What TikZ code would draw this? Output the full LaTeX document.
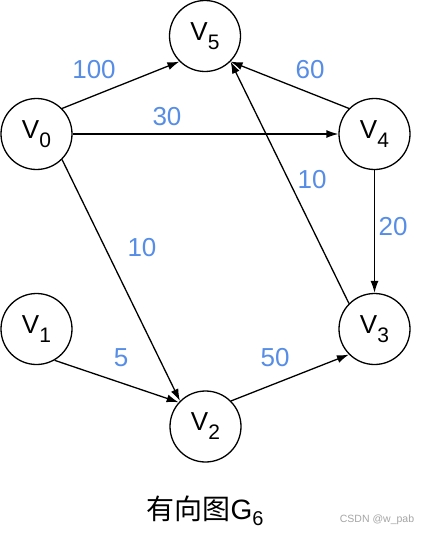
\documentclass[tikz,border=0pt]{standalone}
\usepackage{fontspec}
\setmainfont{Liberation Sans}
\newfontfamily\cjk{Noto Sans CJK SC}
\usetikzlibrary{arrows.meta}
\definecolor{lblue}{RGB}{86,141,230}
\definecolor{wmgray}{RGB}{165,165,165}
\newcommand{\vn}[1]{V\raisebox{-9pt}{\fontsize{21}{21}\selectfont #1}}
\begin{document}
\begin{tikzpicture}[x=1pt,y=-1pt,
  vert/.style={circle,draw,line width=1.3pt,minimum size=71pt,inner sep=0pt,font=\fontsize{26}{30}\selectfont},
  edge/.style={line width=1.3pt,-{Latex[length=12pt,width=8pt]}},
  wlabel/.style={text=lblue,font=\fontsize{26}{30}\selectfont,inner sep=0pt}]
\useasboundingbox (0,0) rectangle (427,535);
\node[vert] (v5) at (205,36) {\vn{5}};
\node[vert] (v0) at (36.5,134) {\vn{0}};
\node[vert] (v4) at (374.5,134) {\vn{4}};
\node[vert] (v1) at (36.5,329) {\vn{1}};
\node[vert] (v3) at (374.5,329) {\vn{3}};
\node[vert] (v2) at (205.5,426.5) {\vn{2}};
\draw[edge] (v0.45) -- (v5.225);
\draw[edge] (v4.135) -- (v5.-45);
\draw[edge] (v0) -- (v4);
\draw[edge] (v3.135) -- (v5.-45);
\draw[edge] (v4) -- (v3);
\draw[edge] (v0.-45) -- (v2.135);
\draw[edge] (v1.-60) -- (v2.138);
\draw[edge] (v2.45) -- (v3.225);
\node[wlabel] (l100) at (94,70) {100};
\node[wlabel] (l30) at (167,117) {30};
\node[wlabel] (l60) at (310,70) {60};
\node[wlabel] (l10a) at (312,180) {10};
\node[wlabel] (l20) at (393,227) {20};
\node[wlabel] (l10b) at (142,248) {10};
\node[wlabel] (l5) at (121,358) {5};
\node[wlabel] (l50) at (275,358) {50};
\node[font=\fontsize{28}{30}\selectfont,inner sep=0pt] (cap) at (205,511) {{\cjk 有向图}G\raisebox{-6pt}{\fontsize{20}{20}\selectfont 6}};
\node[text=wmgray,font=\fontsize{10.5}{12}\selectfont,inner sep=0pt] (wm) at (377,520) {CSDN @w\_pab};
\end{tikzpicture}
\end{document}
